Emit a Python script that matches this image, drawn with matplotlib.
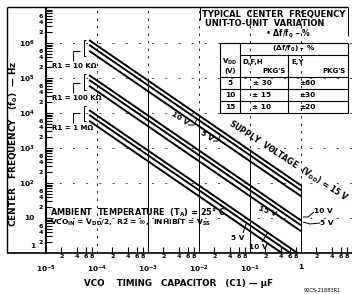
import numpy as np
import matplotlib
matplotlib.use('Agg')
from matplotlib import pyplot as plt
from matplotlib.lines import Line2D
from matplotlib.ticker import FixedLocator, FixedFormatter, LogLocator, FuncFormatter

W, H = 352, 294

# ---- data ----
cap_ends = [7e-5, 1.0]                     # C1 [uF] where each line starts / ends
vdd_names = ['15 V', '10 V', '5 V']
f_r10k = [[1.21e6, 85.0], [8.86e5, 62.0], [6.0e5, 42.0]]     # R1 = 10 kOhm
f_r100k = [[1.21e5, 8.5], [8.86e4, 6.2], [6.0e4, 4.2]]       # R1 = 100 kOhm
f_r1m = [[1.21e4, 0.85], [8.86e3, 0.62], [6.0e3, 0.42]]      # R1 = 1 MOhm

grid_c = [1e-4, 1e-3, 1e-2, 1e-1, 1.0]
solid_c = [1e-3, 1e-2, 1e-1, 1.0]
grid_f = [10, 1e2, 1e3, 1e4, 1e5, 1e6]

x_lim = (1e-5, 10)
x_major = [1e-5, 1e-4, 1e-3, 1e-2, 1e-1, 1.0]
x_major_lbl = ['$10^{-5}$', '$10^{-4}$', '$10^{-3}$', '$10^{-2}$', '$10^{-1}$', '1']
y_major = [10, 1e2, 1e3, 1e4, 1e5, 1e6]
y_major_lbl = ['10', '$10^{2}$', '$10^{3}$', '$10^{4}$', '$10^{5}$', '$10^{6}$']

tbl_vdd = ['5', '10', '15']
tbl_dfh = ['± 30', '± 15', '± 10']
tbl_ey = ['±60', '±30', '±20']

plt.rcParams['font.family'] = 'DejaVu Sans'
plt.rcParams['font.weight'] = 'bold'
plt.rcParams['mathtext.fontset'] = 'custom'
plt.rcParams['mathtext.rm'] = 'DejaVu Sans:bold'
plt.rcParams['mathtext.it'] = 'DejaVu Sans:bold'
plt.rcParams['mathtext.default'] = 'rm'

fig = plt.figure(figsize=(W / 100, H / 100), dpi=100)
ax = fig.add_axes((46 / W, 1 - 253 / H, (W - 46) / W, (253 - 8) / H))
ax.set_xscale('log')
ax.set_yscale('log')
ax.set_xlim(*x_lim)
ax.set_ylim(1, 1e7)


def fline(xs, ys, lw=0.9):
    fig.add_artist(Line2D([x / W for x in xs], [1 - y / H for y in ys],
                          color='black', lw=lw, solid_capstyle='butt'))


def ftext(x, y, s, size=5.5, **kw):
    kw.setdefault('ha', 'center')
    kw.setdefault('va', 'center')
    fig.text(x / W, 1 - y / H, s, fontsize=size, color='black', **kw)


# grid: sparse dashes, solid below the top curve
for c in grid_c:
    ax.axvline(c, color='black', lw=0.6, ls=(0, (3, 6)), zorder=1)
top_log = np.interp(np.log10(solid_c), np.log10(cap_ends), np.log10(f_r10k[0]))
for c, t in zip(solid_c, top_log):
    ax.plot([c, c], [1, 10 ** t], color='black', lw=0.7, zorder=1)
for f in grid_f:
    ax.axhline(f, color='black', lw=0.5, ls=(0, (3, 16)), zorder=1)

# curves
for group in (f_r10k, f_r100k, f_r1m):
    for fv in group:
        ax.plot(cap_ends, fv, color='black', lw=1.4, solid_capstyle='butt', zorder=3)

# axes / ticks
for s in ('top', 'right'):
    ax.spines[s].set_visible(False)
ax.spines['left'].set_linewidth(1.5)
ax.spines['bottom'].set_linewidth(1.2)

ax.xaxis.set_major_locator(FixedLocator(x_major))
ax.xaxis.set_major_formatter(FixedFormatter(x_major_lbl))
ax.xaxis.set_minor_locator(LogLocator(base=10, subs=(2, 4, 6, 8)))
ax.yaxis.set_major_locator(FixedLocator(y_major))
ax.yaxis.set_major_formatter(FixedFormatter(y_major_lbl))
ax.yaxis.set_minor_locator(LogLocator(base=10, subs=(2, 3, 4, 5, 6, 7, 8, 9)))


def mant(v, keep, lo, hi):
    if v < lo or v > hi:
        return ''
    m = int(round(v / 10 ** np.floor(np.log10(v) + 1e-9)))
    return str(m) if m in keep else ''


ax.xaxis.set_minor_formatter(FuncFormatter(lambda v, p: mant(v, (2, 4, 6, 8), *x_lim)))
ax.yaxis.set_minor_formatter(FuncFormatter(lambda v, p: mant(v, (2, 4, 6), 1, 1e7)))

ax.tick_params(axis='x', which='major', direction='in', length=0, pad=8, labelsize=5.3)
ax.tick_params(axis='x', which='minor', direction='in', length=4, width=0.8, pad=1, labelsize=4.6)
ax.tick_params(axis='y', which='major', direction='in', length=5, width=0.8, pad=8, labelsize=5.3)
ax.tick_params(axis='y', which='minor', direction='in', length=4, width=0.8, pad=2, labelsize=4.6)

# the "1" of the y axis sits above the bottom line
ftext(33, 246, '1', size=5.3)

# outer frame
fline([7, 7], [7, 253], lw=1.0)
fline([7, 348], [7, 7], lw=1.0)
fline([7, 46], [253, 253], lw=1.2)
fline([200, 200], [7, 20], lw=0.7)
fline([348, 348], [7, 36], lw=0.7)

# axis titles
ftext(14, 144, 'CENTER   FREQUENCY   (f$_0$)  — Hz', size=6.4, rotation=90)
ftext(178, 283, 'VCO    TIMING   CAPACITOR   (C1) — µF', size=6.3)
ftext(322, 290, '92CS-21883R1', size=3.6, weight='normal')

# conditions
ftext(50, 213, 'AMBIENT  TEMPERATURE  (T$_{\\rm A}$) = 25° C', size=5.9, ha='left')
ftext(50, 223, 'VCO$_{\\rm IN}$ = V$_{\\rm DD}$/2,  R2 = ∞,  INHIBIT = V$_{\\rm SS}$', size=5.4, ha='left')

# variation block
ftext(202, 14, 'TYPICAL  CENTER  FREQUENCY', size=6.0, ha='left')
ftext(205, 23, 'UNIT-TO-UNIT  VARIATION', size=6.0, ha='left')
ftext(288, 34, '• Δf/f$_0$ – %', size=5.6)

for yy in (43, 77, 89, 101, 113):
    fline([220, 348], [yy, yy], lw=0.8)
fline([240, 348], [55, 55], lw=0.8)
fline([220, 220], [43, 113], lw=0.8)
fline([348, 348], [43, 113], lw=0.8)
fline([240, 240], [43, 113], lw=0.8)
fline([288, 288], [55, 113], lw=0.8)
ftext(294, 49, '(Δf/f$_0$) – %', size=5.3)
ftext(230, 62, 'V$_{\\rm DD}$', size=5.0)
ftext(230, 71, '(V)', size=5.0)
ftext(242, 62, 'D,F,H', size=5.0, ha='left')
ftext(286, 71, "PKG'S", size=5.0, ha='right')
ftext(291, 62, 'E,Y', size=5.0, ha='left')
ftext(346, 71, "PKG'S", size=5.0, ha='right')
for i, (a, b, c) in enumerate(zip(tbl_vdd, tbl_dfh, tbl_ey)):
    yy = 83 + 12 * i
    ftext(230, yy, a, size=5.3)
    ftext(262, yy, b, size=5.3)
    ftext(307, yy, c, size=5.3)

# R1 labels with brackets
for lbl, ly, top, bot in (('R1 = 10 KΩ', 66, 40, 56), ('R1 = 100 KΩ', 98, 74, 90),
                          ('R1 = 1 MΩ', 128, 106, 121)):
    ftext(52, ly, lbl, size=5.0, ha='left')
    fline([73, 73, 80], [ly - 5, ly - 15, ly - 15], lw=0.7)
    fline([86, 84, 84, 86], [top, top, bot, bot], lw=0.7)

# voltage labels
ftext(288, 161, 'SUPPLY  VOLTAGE  (V$_{\\rm DD}$) = 15 V', size=5.6, rotation=-33,
      rotation_mode='anchor')
ftext(180, 118, '10 V', size=5.3, rotation=-33, rotation_mode='anchor')
fline([188, 194, 197], [125, 125, 119], lw=0.7)
ftext(207, 136, '5 V', size=5.3, rotation=-33, rotation_mode='anchor')
fline([213, 218, 220], [141, 141, 136], lw=0.7)
ftext(267, 211, '15 V', size=5.3, rotation=-20, rotation_mode='anchor')
ftext(238, 238, '5 V', size=5.3)
fline([243, 246], [233, 224], lw=0.7)
ftext(258, 247, '10 V', size=5.3)
fline([262, 268], [242, 232], lw=0.7)
ftext(323, 211, '10 V', size=5.3)
fline([314, 308, 303], [212, 217, 217], lw=0.7)
ftext(327, 223, '5 V', size=5.3)
fline([320, 310, 303], [223, 224, 222], lw=0.7)

fig.savefig('out.png', dpi=100, facecolor='white')
